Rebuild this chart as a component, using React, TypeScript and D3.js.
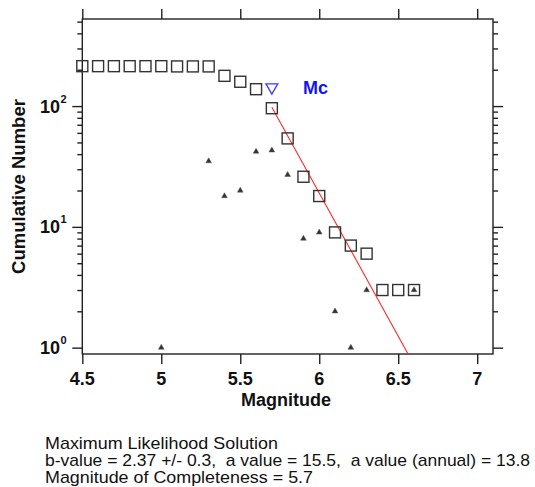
import React, { useEffect, useRef } from "react";
import * as d3 from "d3";

// cumulative number of events (squares)
const magnitudes = [4.5, 4.6, 4.7, 4.8, 4.9, 5.0, 5.1, 5.2, 5.3, 5.4, 5.5, 5.6, 5.7, 5.8, 5.9, 6.0, 6.1, 6.2, 6.3, 6.4, 6.5, 6.6];
const cumulative = [214, 214, 214, 214, 214, 214, 213, 213, 213, 178, 159, 138, 96, 54, 26, 18, 9, 7, 6, 3, 3, 3];

// non-cumulative counts (small triangles)
const binMags = [5.0, 5.3, 5.4, 5.5, 5.6, 5.7, 5.8, 5.9, 6.0, 6.1, 6.2, 6.3, 6.6];
const binCounts = [1, 35, 18, 20, 42, 43, 27, 8, 9, 2, 1, 3, 3];

const xTicks = [4.5, 5, 5.5, 6, 6.5, 7];
const yMajor = [1, 10, 100];
const yMinor = [2, 3, 4, 5, 6, 7, 8, 9, 20, 30, 40, 50, 60, 70, 80, 90, 200, 300, 400, 500];

const mc = 5.7;
const mcCount = 143;
const aValue = 15.5;
const bValue = 2.37;

const infoLines = [
  "Maximum Likelihood Solution",
  "b-value = 2.37 +/- 0.3,  a value = 15.5,  a value (annual) = 13.8",
  "Magnitude of Completeness = 5.7",
];
const infoWidths = [233, 485, 268];

export default function App() {
  const ref = useRef<SVGSVGElement>(null);

  useEffect(() => {
    const svg = d3.select(ref.current);
    svg.selectAll("*").remove();

    const left = 82.3, right = 493, top = 19, bottom = 354;
    const x = d3.scaleLinear().domain([4.5, 7.1]).range([left, right]);
    const y = d3.scaleLog().domain([0.886, 526]).range([bottom, top]);
    const axisColor = "#222";
    const font = "'Liberation Sans', Arial, sans-serif";

    svg.append("defs").append("clipPath").attr("id", "plotClip")
      .append("rect").attr("x", left).attr("y", top).attr("width", right - left).attr("height", bottom - top);

    // axes (ticks only, frame drawn separately)
    const styleAxis = (g: any) => {
      g.select(".domain").remove();
      g.selectAll("line").attr("stroke", axisColor).attr("stroke-width", 1.4);
      g.selectAll("text").remove();
    };
    svg.append("g").attr("transform", `translate(0,${bottom})`)
      .call(d3.axisBottom(x).tickValues(xTicks).tickSize(10)).call(styleAxis);
    svg.append("g").attr("transform", `translate(0,${top})`)
      .call(d3.axisTop(x).tickValues(xTicks).tickSize(10)).call(styleAxis);
    svg.append("g").attr("transform", `translate(${left},0)`)
      .call(d3.axisLeft(y).tickValues(yMajor).tickSize(10)).call(styleAxis);
    svg.append("g").attr("transform", `translate(${left},0)`)
      .call(d3.axisLeft(y).tickValues(yMinor).tickSize(5)).call(styleAxis);
    svg.append("g").attr("transform", `translate(${right},0)`)
      .call(d3.axisRight(y).tickValues(yMajor).tickSize(10)).call(styleAxis);
    svg.append("g").attr("transform", `translate(${right},0)`)
      .call(d3.axisRight(y).tickValues(yMinor).tickSize(5)).call(styleAxis);

    svg.append("rect")
      .attr("x", left).attr("y", top).attr("width", right - left).attr("height", bottom - top)
      .attr("fill", "none").attr("stroke", axisColor).attr("stroke-width", 1.4);

    // x tick labels
    svg.append("g").selectAll("text").data(xTicks).enter().append("text")
      .attr("x", (d) => x(d)).attr("y", 385)
      .attr("text-anchor", "middle")
      .style("font-family", font).style("font-weight", "bold").style("font-size", "18px")
      .attr("fill", "#111")
      .text((d) => String(d));

    // y tick labels 10^n
    const yl = svg.append("g").selectAll("g").data(yMajor).enter().append("g");
    yl.append("text")
      .attr("x", 60).attr("y", (d) => y(d) + 6.5)
      .attr("text-anchor", "end")
      .style("font-family", font).style("font-weight", "bold").style("font-size", "18px")
      .attr("fill", "#111").text("10");
    yl.append("text")
      .attr("x", 60.5).attr("y", (d) => y(d) - 3.5)
      .style("font-family", font).style("font-weight", "bold").style("font-size", "11px")
      .attr("fill", "#111").text((d) => String(Math.round(Math.log10(d))));

    // axis titles
    svg.append("text").attr("x", 286).attr("y", 406).attr("text-anchor", "middle")
      .style("font-family", font).style("font-weight", "bold").style("font-size", "18px")
      .attr("fill", "#111").text("Magnitude");
    svg.append("text").attr("transform", "translate(25,186.5) rotate(-90)").attr("text-anchor", "middle")
      .style("font-family", font).style("font-weight", "bold").style("font-size", "18.5px")
      .attr("fill", "#111").text("Cumulative Number");

    const plot = svg.append("g").attr("clip-path", "url(#plotClip)");

    // Gutenberg-Richter fit from Mc down to the bottom of the plot
    const mEnd = (aValue - Math.log10(y.domain()[0])) / bValue;
    const fit = [mc, mEnd].map((m) => [x(m), y(Math.pow(10, aValue - bValue * m))] as [number, number]);
    plot.append("path").attr("d", d3.line()(fit))
      .attr("stroke", "#ff2a2a").attr("stroke-width", 1.1).attr("fill", "none");

    // cumulative squares
    const sq = 11;
    svg.append("g").selectAll("rect").data(magnitudes).enter().append("rect")
      .attr("x", (d) => x(d) - sq / 2)
      .attr("y", (d, i) => y(cumulative[i]) - sq / 2)
      .attr("width", sq).attr("height", sq)
      .attr("fill", "none").attr("stroke", "#333").attr("stroke-width", 1.4);

    // non-cumulative triangles
    const tri = d3.symbol().type(d3.symbolTriangle).size(14);
    svg.append("g").selectAll("path").data(binMags).enter().append("path")
      .attr("d", tri)
      .attr("transform", (d, i) => `translate(${x(d)},${y(binCounts[i])})`)
      .attr("fill", "#333").attr("stroke", "#555").attr("stroke-width", 0.5);

    // Mc marker
    svg.append("path")
      .attr("d", d3.symbol().type(d3.symbolTriangle).size(60))
      .attr("transform", `translate(${x(mc)},${y(mcCount)}) rotate(180)`)
      .attr("fill", "none").attr("stroke", "#3a3aff").attr("stroke-width", 1.3);
    svg.append("text").attr("x", 303).attr("y", 93.5)
      .style("font-family", font).style("font-weight", "bold").style("font-size", "18px")
      .attr("fill", "#1414f0").text("Mc");

    // info text
    svg.append("g").selectAll("text").data(infoLines).enter().append("text")
      .attr("x", 45).attr("y", (d, i) => 449 + i * 16.8)
      .attr("textLength", (d, i) => infoWidths[i]).attr("lengthAdjust", "spacingAndGlyphs")
      .style("font-family", font).style("font-size", "17px").style("white-space", "pre")
      .attr("fill", "#111").text((d) => d);
  }, []);

  return (
    <svg ref={ref} width={535} height={487}
      style={{ position: "absolute", left: 0, top: 0, background: "#fff" }} />
  );
}
